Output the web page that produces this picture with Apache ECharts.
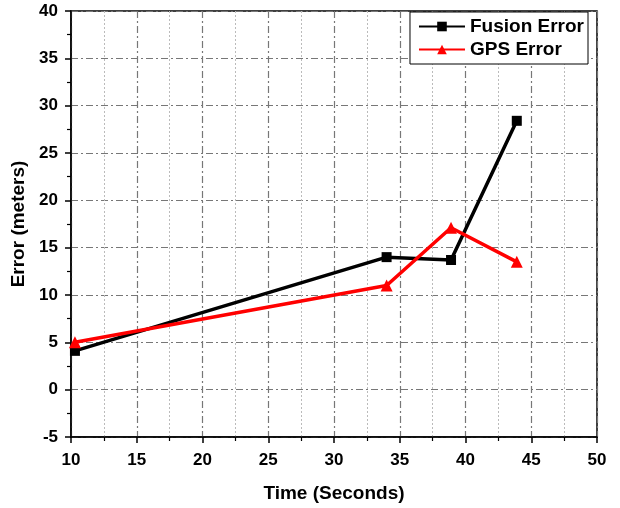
<!DOCTYPE html>
<html>
<head>
<meta charset="utf-8">
<script src="https://cdn.jsdelivr.net/npm/echarts@6/dist/echarts.min.js"></script>
<style>
  html, body { margin: 0; padding: 0; background: #fff; }
  #main { width: 620px; height: 508px; }
</style>
</head>
<body>
<div id="main"></div>
<script>
// data
const seriesNames = ["Fusion Error", "GPS Error"];
const timeFusion = [10.3, 34.0, 38.9, 43.9];
const fusionError = [4.1, 14.0, 13.7, 28.4];
const timeGps = [10.3, 34.0, 38.9, 43.9];
const gpsError = [5.0, 11.0, 17.1, 13.5];

const font = "'Liberation Sans', Arial, sans-serif";
const chart = echarts.init(document.getElementById("main"), null, { renderer: "canvas" });

const dashDot = { color: "#777", width: 1.2, type: [7, 3, 2, 3] };

chart.setOption({
  animation: false,
  textStyle: { fontFamily: font },
  grid: {
    left: 71, right: 23, top: 11, bottom: 71,
    show: true, borderColor: "#000", borderWidth: 1.5, backgroundColor: "transparent"
  },
  legend: {
    top: 12, right: 32,
    orient: "vertical",
    itemGap: 4,
    itemWidth: 46, itemHeight: 12,
    padding: [5, 4, 5, 8],
    borderColor: "#000", borderWidth: 1,
    backgroundColor: "#fff",
    textStyle: { fontFamily: font, fontWeight: "bold", fontSize: 19, color: "#000" },
    data: seriesNames
  },
  xAxis: {
    type: "value",
    min: 10, max: 50, interval: 5,
    name: "Time (Seconds)",
    nameLocation: "middle", nameGap: 47,
    nameTextStyle: { fontFamily: font, fontWeight: "bold", fontSize: 19, color: "#000" },
    axisLine: { show: true, onZero: false, lineStyle: { color: "#000", width: 1.5 } },
    axisTick: { show: true, inside: false, length: 6, lineStyle: { color: "#000", width: 1.5 } },
    minorTick: { show: true, splitNumber: 2, length: 4, lineStyle: { color: "#000", width: 1.2 } },
    axisLabel: { fontFamily: font, fontWeight: "bold", fontSize: 17, color: "#000", margin: 15 },
    splitLine: { show: true, lineStyle: dashDot },
    minorSplitLine: { show: true, lineStyle: { color: "#bbb", width: 1, type: [2, 2] } }
  },
  yAxis: {
    type: "value",
    min: -5, max: 40, interval: 5,
    name: "Error (meters)",
    nameLocation: "middle", nameGap: 39,
    nameTextStyle: { fontFamily: font, fontWeight: "bold", fontSize: 19, color: "#000" },
    axisLine: { show: true, onZero: false, lineStyle: { color: "#000", width: 1.5 } },
    axisTick: { show: true, inside: false, length: 6, lineStyle: { color: "#000", width: 1.5 } },
    minorTick: { show: true, splitNumber: 2, length: 4, lineStyle: { color: "#000", width: 1.2 } },
    axisLabel: { fontFamily: font, fontWeight: "bold", fontSize: 17, color: "#000", margin: 13 },
    splitLine: { show: true, lineStyle: dashDot }
  },
  series: [
    {
      name: seriesNames[0],
      type: "line",
      data: timeFusion.map((t, i) => [t, fusionError[i]]),
      symbol: "rect", symbolSize: 10,
      lineStyle: { color: "#000", width: 3.5 },
      itemStyle: { color: "#000" },
      z: 3
    },
    {
      name: seriesNames[1],
      type: "line",
      data: timeGps.map((t, i) => [t, gpsError[i]]),
      symbol: "triangle", symbolSize: 12,
      lineStyle: { color: "#f00", width: 3.5 },
      itemStyle: { color: "#f00" },
      z: 4
    }
  ]
});
</script>
</body>
</html>
